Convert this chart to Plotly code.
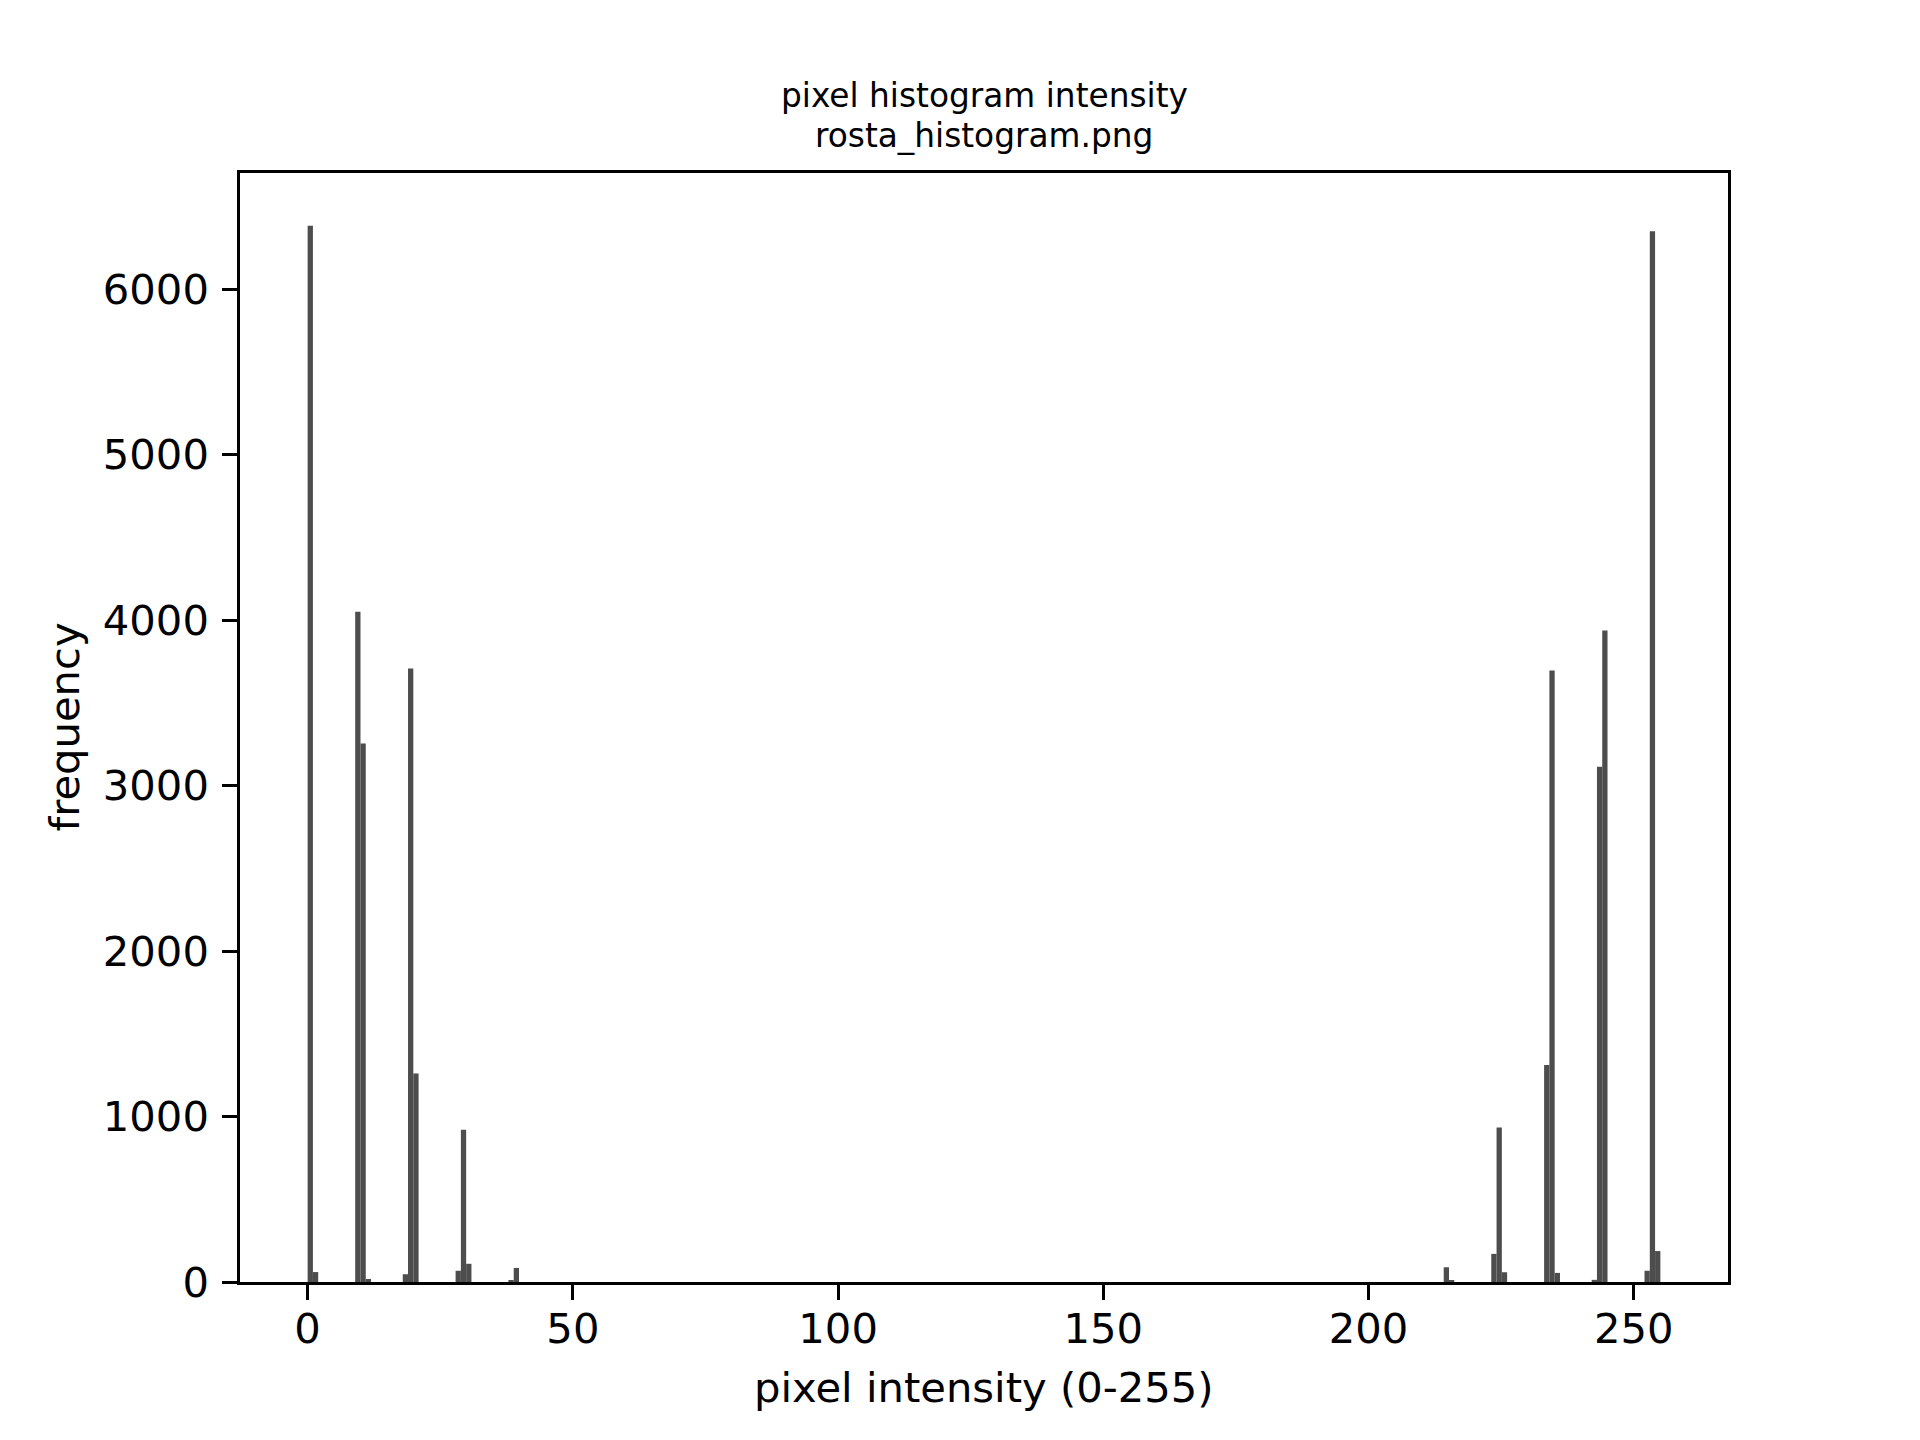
import plotly.graph_objects as go

# histogram data: 256 bins over 0..255 (only non-empty bins listed)
bin_index = [0, 1, 9, 10, 11, 18, 19, 20, 28, 29, 30, 38, 39,
             215, 216, 224, 225, 226, 234, 235, 236, 243, 244, 245, 253, 254, 255]
counts = [6383, 60, 4050, 3254, 18, 47, 3708, 1260, 68, 920, 110, 12, 85,
          89, 10, 170, 933, 59, 1311, 3695, 55, 13, 3114, 3937, 68, 6350, 187]

n_bins = 256
lo, hi = 0, 255
bw = (hi - lo) / n_bins
x_centers = [lo + i * bw + bw / 2 for i in bin_index]

x_ticks = [0, 50, 100, 150, 200, 250]
y_ticks = [0, 1000, 2000, 3000, 4000, 5000, 6000]

title_line1 = "pixel histogram intensity"
title_line2 = "rosta_histogram.png"
x_label = "pixel intensity (0-255)"
y_label = "frequency"

FONT = "DejaVu Sans"
TICK_SIZE = 41.7
TITLE_SIZE = 32.8

fig = go.Figure()
fig.add_trace(go.Bar(x=x_centers, y=counts, width=[bw] * len(counts),
                     marker=dict(color="#4d4d4d", line=dict(width=0)),
                     showlegend=False))

axis_common = dict(showline=True, linecolor="black", linewidth=3.3, mirror=True,
                   ticks="outside", ticklen=14.6, tickwidth=3.3, tickcolor="black",
                   showgrid=False, zeroline=False,
                   tickfont=dict(family=FONT, size=TICK_SIZE, color="black"))

fig.update_layout(
    width=1920, height=1440,
    margin=dict(l=240, r=192, t=172.8, b=158.4, pad=0),
    paper_bgcolor="white", plot_bgcolor="white",
    xaxis=dict(range=[lo - 0.05 * (hi - lo), hi + 0.05 * (hi - lo)],
               tickvals=x_ticks, ticktext=[str(v) for v in x_ticks],
               ticklabelstandoff=-7, **axis_common),
    yaxis=dict(range=[0, 6702], tickvals=y_ticks, ticktext=[str(v) for v in y_ticks],
               ticklabelstandoff=5, **axis_common),
    annotations=[
        dict(text=title_line1, xref="paper", yref="paper", x=0.5, y=(1440 - 95.5 - 158.4) / 1108.8,
             xanchor="center", yanchor="middle", showarrow=False,
             font=dict(family=FONT, size=TITLE_SIZE, color="black")),
        dict(text=title_line2, xref="paper", yref="paper", x=0.5, y=(1440 - 136 - 158.4) / 1108.8,
             xanchor="center", yanchor="middle", showarrow=False,
             font=dict(family=FONT, size=TITLE_SIZE, color="black")),
        dict(text=x_label, xref="paper", yref="paper", x=0.5, y=(1440 - 1387 - 158.4) / 1108.8,
             xanchor="center", yanchor="middle", showarrow=False,
             font=dict(family=FONT, size=TICK_SIZE, color="black")),
        dict(text=y_label, xref="paper", yref="paper", x=(64 - 240) / 1488, y=0.5,
             xanchor="center", yanchor="middle", showarrow=False, textangle=-90,
             font=dict(family=FONT, size=TICK_SIZE, color="black")),
    ],
)

fig.write_html("out.html")
